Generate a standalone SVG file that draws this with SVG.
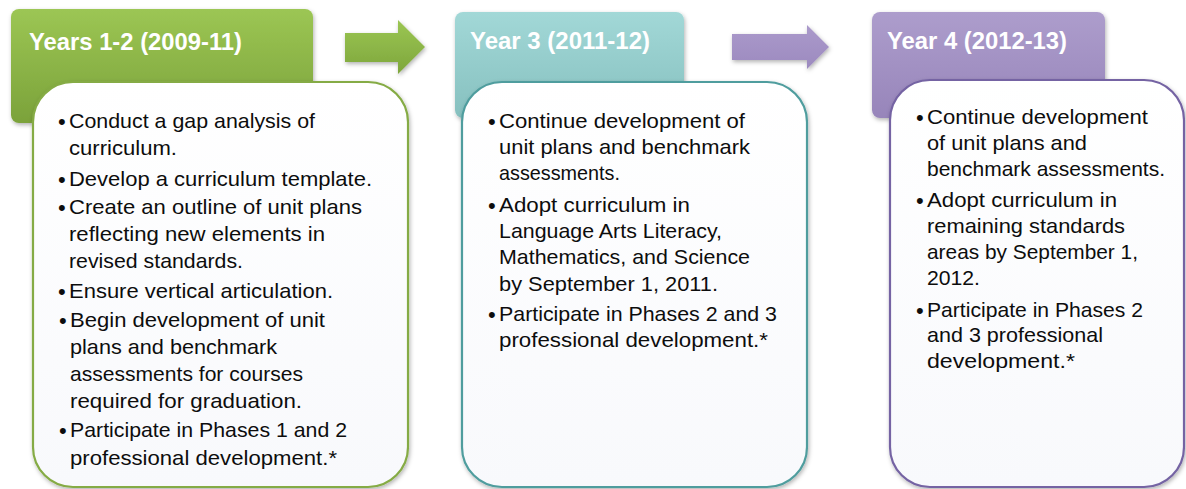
<svg xmlns="http://www.w3.org/2000/svg" width="1186" height="489" viewBox="0 0 1186 489">
  <defs>
    <linearGradient id="gGreen" x1="0" y1="0" x2="0" y2="1">
      <stop offset="0" stop-color="#9cc654"/>
      <stop offset="1" stop-color="#7ba23a"/>
    </linearGradient>
    <linearGradient id="gTeal" x1="0" y1="0" x2="0" y2="1">
      <stop offset="0" stop-color="#a2d8d7"/>
      <stop offset="1" stop-color="#86c0bf"/>
    </linearGradient>
    <linearGradient id="gPurple" x1="0" y1="0" x2="0" y2="1">
      <stop offset="0" stop-color="#ad9dcc"/>
      <stop offset="1" stop-color="#9785ba"/>
    </linearGradient>
    <linearGradient id="gBody" x1="0" y1="0" x2="0" y2="1">
      <stop offset="0" stop-color="#ffffff"/>
      <stop offset="1" stop-color="#f8f9fc"/>
    </linearGradient>
    <linearGradient id="gArrowGreen" x1="0" y1="0" x2="0" y2="1">
      <stop offset="0" stop-color="#9bc653"/>
      <stop offset="1" stop-color="#7ea63c"/>
    </linearGradient>
    <linearGradient id="gArrowPurple" x1="0" y1="0" x2="0" y2="1">
      <stop offset="0" stop-color="#ab9acb"/>
      <stop offset="1" stop-color="#9c8abf"/>
    </linearGradient>
    <filter id="shadow" x="-10%" y="-10%" width="125%" height="130%">
      <feDropShadow dx="1" dy="2" stdDeviation="2" flood-color="#000" flood-opacity="0.3"/>
    </filter>
  </defs>
  <style>
    .head { font-family: "Liberation Sans", Arial, sans-serif; font-weight: bold; font-size: 24px; fill: #ffffff; }
    .body { font-family: "Liberation Sans", Arial, sans-serif; font-size: 21px; fill: #0d0d0d; }
    .bul { font-family: "Liberation Sans", Arial, sans-serif; font-size: 22px; fill: #0d0d0d; }
    .box { fill: url(#gBody); stroke-width: 2.2; }
  </style>

  <g id="connectors">
    <path id="arrow-1" d="M345,33 H398 V20 L425,47 L398,74 V62 H345 Z" fill="url(#gArrowGreen)" filter="url(#shadow)"/>
    <path id="arrow-2" d="M732,34 H807 V25 L829,47 L807,69 V60 H732 Z" fill="url(#gArrowPurple)" filter="url(#shadow)"/>
  </g>

  <g id="stage-1">
    <rect x="11" y="9" width="302" height="114" rx="8" fill="url(#gGreen)" filter="url(#shadow)"/>
    <text class="head" x="29" y="50" textLength="213" lengthAdjust="spacingAndGlyphs">Years 1-2 (2009-11)</text>
    <rect class="box" x="33" y="82" width="375" height="405" rx="40" stroke="#85ab44" filter="url(#shadow)"/>
    <g>
      <text class="bul" x="58" y="129">•</text>
      <text class="body" x="69" y="128" textLength="246" lengthAdjust="spacingAndGlyphs">Conduct a gap analysis of</text>
      <text class="body" x="69" y="155" textLength="108" lengthAdjust="spacingAndGlyphs">curriculum.</text>
      <text class="bul" x="58" y="187">•</text>
      <text class="body" x="69" y="186" textLength="303" lengthAdjust="spacingAndGlyphs">Develop a curriculum template.</text>
      <text class="bul" x="58" y="215">•</text>
      <text class="body" x="69" y="214" textLength="293" lengthAdjust="spacingAndGlyphs">Create an outline of unit plans</text>
      <text class="body" x="69" y="241" textLength="256" lengthAdjust="spacingAndGlyphs">reflecting new elements in</text>
      <text class="body" x="69" y="268" textLength="174" lengthAdjust="spacingAndGlyphs">revised standards.</text>
      <text class="bul" x="58" y="299">•</text>
      <text class="body" x="69" y="298" textLength="264" lengthAdjust="spacingAndGlyphs">Ensure vertical articulation.</text>
      <text class="bul" x="59" y="328">•</text>
      <text class="body" x="70" y="327" textLength="255" lengthAdjust="spacingAndGlyphs">Begin development of unit</text>
      <text class="body" x="70" y="354" textLength="207" lengthAdjust="spacingAndGlyphs">plans and benchmark</text>
      <text class="body" x="70" y="381" textLength="233" lengthAdjust="spacingAndGlyphs">assessments  for courses</text>
      <text class="body" x="70" y="408" textLength="232" lengthAdjust="spacingAndGlyphs">required for graduation.</text>
      <text class="bul" x="59" y="438">•</text>
      <text class="body" x="70" y="437" textLength="277" lengthAdjust="spacingAndGlyphs">Participate in Phases 1 and 2</text>
      <text class="body" x="70" y="465" textLength="267" lengthAdjust="spacingAndGlyphs">professional development.*</text>
    </g>
  </g>

  <g id="stage-2">
    <rect x="455" y="12" width="229" height="106" rx="8" fill="url(#gTeal)" filter="url(#shadow)"/>
    <text class="head" x="470" y="49" textLength="180" lengthAdjust="spacingAndGlyphs">Year 3 (2011-12)</text>
    <rect class="box" x="462" y="82" width="345" height="405" rx="40" stroke="#4f9d9e" filter="url(#shadow)"/>
    <g>
      <text class="bul" x="488" y="129">•</text>
      <text class="body" x="499" y="128" textLength="246" lengthAdjust="spacingAndGlyphs">Continue development of</text>
      <text class="body" x="499" y="154" textLength="251" lengthAdjust="spacingAndGlyphs">unit plans and benchmark</text>
      <text class="body" x="499" y="180" textLength="121" lengthAdjust="spacingAndGlyphs">assessments.</text>
      <text class="bul" x="488" y="213">•</text>
      <text class="body" x="499" y="212" textLength="191" lengthAdjust="spacingAndGlyphs">Adopt curriculum in</text>
      <text class="body" x="499" y="238" textLength="223" lengthAdjust="spacingAndGlyphs">Language Arts Literacy,</text>
      <text class="body" x="499" y="264" textLength="251" lengthAdjust="spacingAndGlyphs">Mathematics, and Science</text>
      <text class="body" x="499" y="291" textLength="219" lengthAdjust="spacingAndGlyphs">by September 1, 2011.</text>
      <text class="bul" x="488" y="322">•</text>
      <text class="body" x="499" y="321" textLength="278" lengthAdjust="spacingAndGlyphs">Participate in Phases 2 and 3</text>
      <text class="body" x="499" y="347" textLength="269" lengthAdjust="spacingAndGlyphs">professional development.*</text>
    </g>
  </g>

  <g id="stage-3">
    <rect x="872" y="12" width="233" height="106" rx="8" fill="url(#gPurple)" filter="url(#shadow)"/>
    <text class="head" x="887" y="49" textLength="180" lengthAdjust="spacingAndGlyphs">Year 4 (2012-13)</text>
    <rect class="box" x="890" y="80" width="294" height="407" rx="40" stroke="#7463a3" filter="url(#shadow)"/>
    <g>
      <text class="bul" x="916" y="125">•</text>
      <text class="body" x="927" y="124" textLength="221" lengthAdjust="spacingAndGlyphs">Continue development</text>
      <text class="body" x="927" y="150" textLength="160" lengthAdjust="spacingAndGlyphs">of unit plans and</text>
      <text class="body" x="927" y="176" textLength="238" lengthAdjust="spacingAndGlyphs">benchmark assessments.</text>
      <text class="bul" x="916" y="208">•</text>
      <text class="body" x="927" y="207" textLength="190" lengthAdjust="spacingAndGlyphs">Adopt curriculum in</text>
      <text class="body" x="927" y="233" textLength="198" lengthAdjust="spacingAndGlyphs">remaining standards</text>
      <text class="body" x="927" y="259" textLength="211" lengthAdjust="spacingAndGlyphs">areas by September 1,</text>
      <text class="body" x="927" y="285" textLength="53" lengthAdjust="spacingAndGlyphs">2012.</text>
      <text class="bul" x="916" y="318">•</text>
      <text class="body" x="927" y="317" textLength="216" lengthAdjust="spacingAndGlyphs">Participate in Phases 2</text>
      <text class="body" x="927" y="342" textLength="176" lengthAdjust="spacingAndGlyphs">and 3 professional</text>
      <text class="body" x="927" y="368" textLength="148" lengthAdjust="spacingAndGlyphs">development.*</text>
    </g>
  </g>
</svg>
